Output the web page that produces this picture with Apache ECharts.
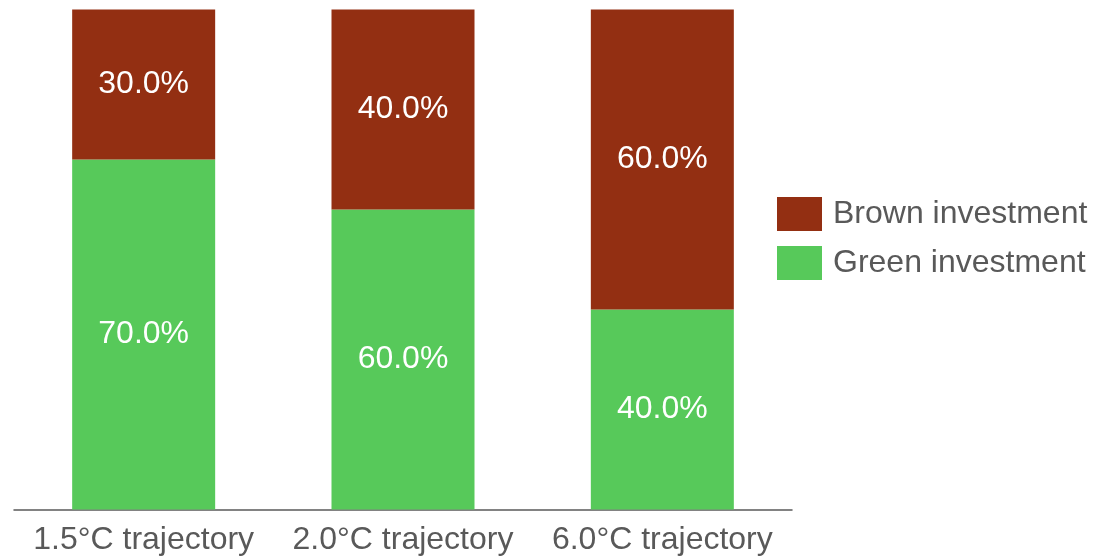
<!DOCTYPE html>
<html>
<head>
<meta charset="utf-8">
<script src="https://cdn.jsdelivr.net/npm/echarts@6/dist/echarts.min.js"></script>
<style>html,body{margin:0;padding:0;background:#fff}#c{width:1094px;height:558px}</style>
</head>
<body>
<div id="c"></div>
<script>
const categories = ['1.5°C trajectory', '2.0°C trajectory', '6.0°C trajectory'];
const greenValues = [70, 60, 40];
const brownValues = [30, 40, 60];
const seriesNames = ['Green investment', 'Brown investment'];

const chart = echarts.init(document.getElementById('c'), null, {renderer: 'canvas'});
const font = 'Liberation Sans, Arial, sans-serif';
const labelCfg = {
  show: true, position: 'inside', color: '#ffffff', fontSize: 32, fontFamily: font,
  formatter: p => p.value.toFixed(1) + '%'
};
chart.setOption({
  animation: false,
  grid: {left: 14, right: 302, top: 9.5, bottom: 48.5, containLabel: false},
  legend: {
    orient: 'vertical', left: 777, top: 195.5, padding: 0,
    data: [seriesNames[1], seriesNames[0]],
    itemWidth: 45, itemHeight: 34, itemGap: 12,
    icon: 'rect',
    textStyle: {fontSize: 32, fontFamily: font, color: '#595959', lineHeight: 34, padding: [3, 0, 0, 6]}
  },
  xAxis: {
    type: 'category', data: categories,
    axisLine: {lineStyle: {color: '#595959', width: 1.5}},
    axisTick: {show: false},
    axisLabel: {fontSize: 32, fontFamily: font, color: '#595959', margin: 15, interval: 0}
  },
  yAxis: {type: 'value', min: 0, max: 100, show: false, splitLine: {show: false}},
  series: [
    {name: seriesNames[0], type: 'bar', stack: 't', data: greenValues, barWidth: 143,
     itemStyle: {color: '#57C95A'}, label: labelCfg},
    {name: seriesNames[1], type: 'bar', stack: 't', data: brownValues, barWidth: 143,
     itemStyle: {color: '#932F12'}, label: labelCfg}
  ]
});
</script>
</body>
</html>
